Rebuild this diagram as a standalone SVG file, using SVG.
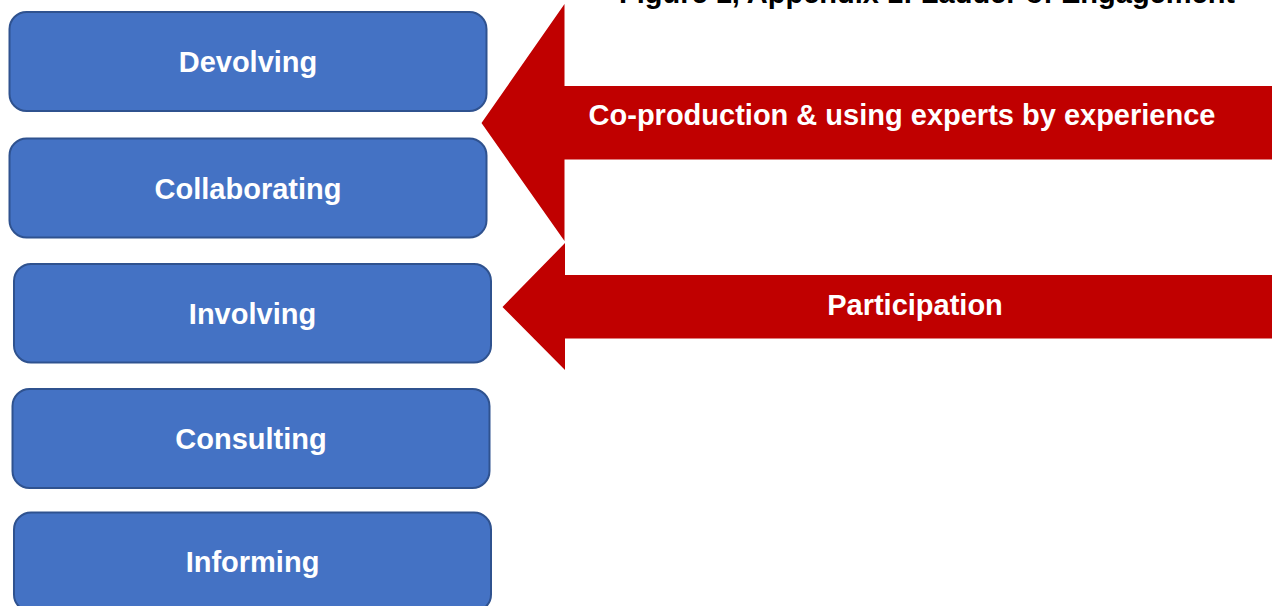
<svg xmlns="http://www.w3.org/2000/svg" width="1272" height="606" viewBox="0 0 1272 606">
<style>
.box{fill:#4472C4;stroke:#2F528F;stroke-width:2}
.lbl{fill:#FFFFFF;font-family:"Liberation Sans",Arial,sans-serif;font-weight:bold;font-size:29px;text-anchor:middle}
.arrow{fill:#C00000}
.title{fill:#000000;font-family:"Liberation Sans",Arial,sans-serif;font-weight:bold;font-size:29px;text-anchor:middle}
</style>
<rect width="1272" height="606" fill="#FFFFFF"/>
<text class="title" x="927" y="3">Figure 1, Appendix 1: Ladder of Engagement</text>
<g id="connectors">
<g id="arrow-coproduction">
<polygon class="arrow" points="481.5,123 564.5,4 564.5,86 1272,86 1272,159.5 564.5,159.5 564.5,241"/>
<text class="lbl" x="902" y="124.5">Co-production &amp; using experts by experience</text>
</g>
<g id="arrow-participation">
<polygon class="arrow" points="502.5,307 565,243 565,275 1272,275 1272,338.5 565,338.5 565,370"/>
<text class="lbl" x="915" y="314.5">Participation</text>
</g>
</g>
<g id="node-devolving">
<rect class="box" x="9.5" y="12" width="477" height="99" rx="17"/>
<text class="lbl" x="248" y="72">Devolving</text>
</g>
<g id="node-collaborating">
<rect class="box" x="9.5" y="138.5" width="477" height="99" rx="17"/>
<text class="lbl" x="248" y="199">Collaborating</text>
</g>
<g id="node-involving">
<rect class="box" x="14" y="264" width="477" height="98.5" rx="17"/>
<text class="lbl" x="252.5" y="324">Involving</text>
</g>
<g id="node-consulting">
<rect class="box" x="12.5" y="389" width="477" height="99" rx="17"/>
<text class="lbl" x="251" y="449">Consulting</text>
</g>
<g id="node-informing">
<rect class="box" x="14" y="512.5" width="477" height="99" rx="17"/>
<text class="lbl" x="252.5" y="572">Informing</text>
</g>
</svg>
